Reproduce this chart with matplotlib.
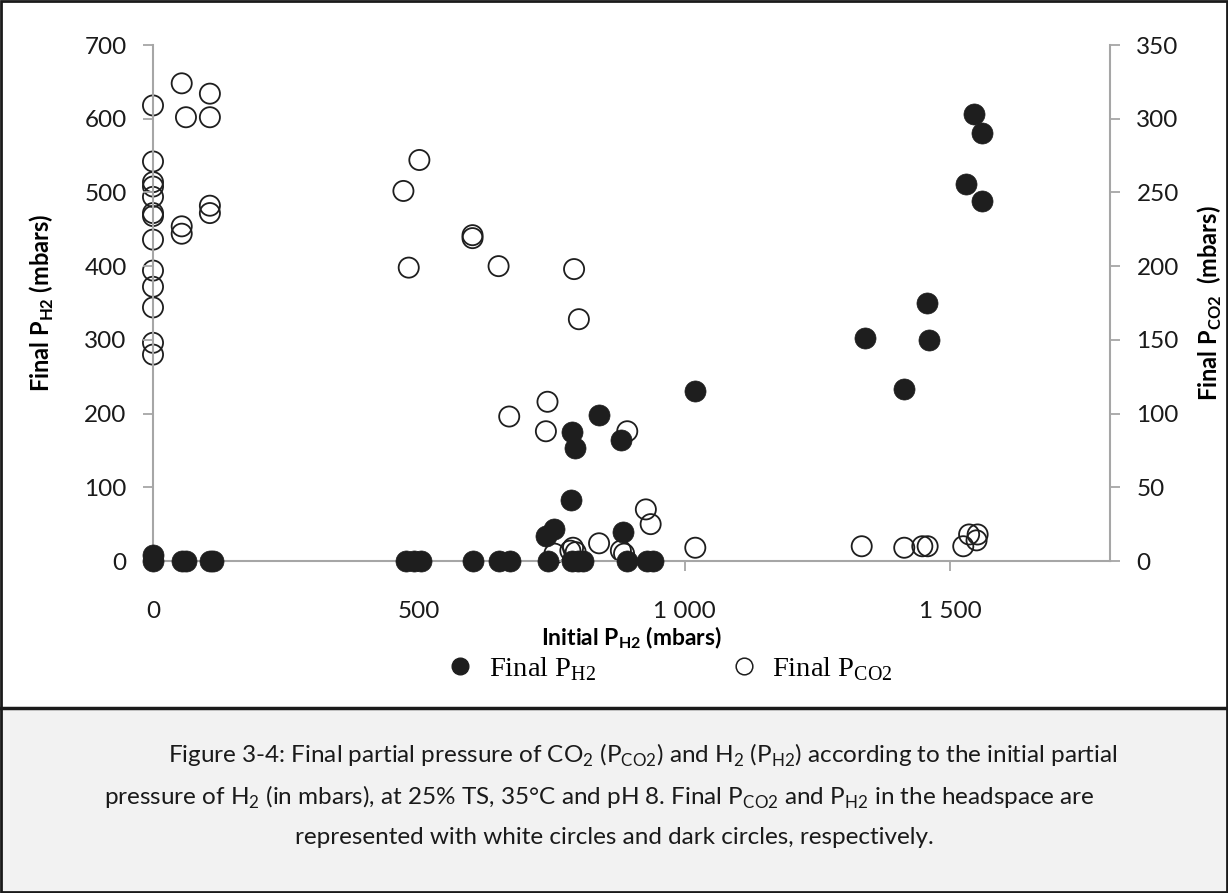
import matplotlib
matplotlib.use("Agg")
import matplotlib.pyplot as plt
from matplotlib.lines import Line2D
from matplotlib.patches import Rectangle

plt.rcParams['mathtext.fontset'] = 'custom'
plt.rcParams['mathtext.rm'] = 'Liberation Serif'
plt.rcParams['mathtext.bf'] = 'Lato:bold'
plt.rcParams['mathtext.sf'] = 'Lato'
plt.rcParams['font.family'] = ['Lato', 'DejaVu Sans']

# ---------------- data ----------------
h2_initial = [0, 0, 55, 63, 107, 113,
              475, 490, 505,
              601, 651, 671, 743, 789, 800, 808, 892, 930, 940,
              739, 755, 786, 789, 794, 839, 880, 884,
              1020,
              1340, 1413, 1455, 1460, 1530, 1545, 1560, 1560]
h2_final = [0, 8, 0, 0, 0, 0,
            0, 0, 0,
            0, 0, 0, 0, 0, 0, 0, 0, 0, 0,
            34, 44, 83, 175, 153, 198, 164, 40,
            230,
            302, 234, 350, 300, 512, 606, 580, 488]

co2_initial = [0, 0, 0, 0, 0, 0, 0, 0, 0, 0, 0, 0, 0,
               54, 107, 62, 107, 54, 54, 107, 107,
               471, 501, 481, 601, 601, 650, 670, 742, 739,
               792, 801, 892, 927, 936, 839, 755, 785, 790, 795, 880, 886,
               1020,
               1333, 1413, 1447, 1457, 1524, 1535, 1551, 1549]
co2_final = [309, 271, 257, 254, 247, 236, 234, 218, 197, 186, 172, 148, 140,
             324, 317, 301, 301, 227, 222, 241, 236,
             251, 272, 199, 221, 219, 200, 98, 108, 88,
             198, 164, 88, 35, 25, 12, 5, 7, 9, 6, 7, 5,
             9,
             10, 9, 10, 10, 10, 18, 18, 14]

x_ticks = [0, 500, 1000, 1500]
x_ticklabels = ['0', '500', '1 000', '1 500']
y_left_ticks = [0, 100, 200, 300, 400, 500, 600, 700]
y_right_ticks = [0, 50, 100, 150, 200, 250, 300, 350]

# ---------------- figure ----------------
W, H = 1228, 893
fig = plt.figure(figsize=(W / 100, H / 100), dpi=100)

# caption background + borders
fig.patches.append(Rectangle((0, 0), 1, (H - 708) / H, transform=fig.transFigure,
                             facecolor='#f2f2f2', edgecolor='none', zorder=0))
fig.add_artist(Line2D([0, 1], [(H - 708) / H] * 2, transform=fig.transFigure,
                      color='#1a1a1a', lw=2.5))
fig.patches.append(Rectangle((0.001, 0.001), 0.998, 0.998, transform=fig.transFigure,
                             facecolor='none', edgecolor='#1a1a1a', lw=2, zorder=5))

left, right, top, bottom = 153, 1110, 45, 561
ax = fig.add_axes([left / W, (H - bottom) / H, (right - left) / W, (bottom - top) / H])
ax2 = ax.twinx()
ax.set_zorder(2)
ax.patch.set_visible(False)

gray = '#a6a6a6'
dark = '#1e1e1e'

ax2.scatter(co2_initial, co2_final, s=210, facecolors='none', edgecolors=dark,
            linewidths=1.3, clip_on=False, zorder=3)
ax.scatter(h2_initial, h2_final, s=230, facecolors=dark, edgecolors=dark,
           linewidths=0.5, clip_on=False, zorder=4)

ax.set_xlim(0, 1800)
ax.set_ylim(0, 700)
ax2.set_ylim(0, 350)
ax.set_xticks(x_ticks)
ax.set_xticklabels(x_ticklabels)
ax.set_yticks(y_left_ticks)
ax2.set_yticks(y_right_ticks)

for a in (ax, ax2):
    a.spines['top'].set_visible(False)
    for s in ('left', 'right', 'bottom'):
        a.spines[s].set_color(gray)
        a.spines[s].set_linewidth(1.5)
    a.tick_params(axis='both', colors=gray, labelcolor='#1a1a1a', length=7,
                  width=1.3, labelsize=17.5, direction='out')
ax.spines['right'].set_visible(False)
ax2.spines['left'].set_visible(False)
ax2.spines['bottom'].set_visible(False)
ax.tick_params(axis='x', pad=22)
ax.tick_params(axis='y', pad=12)
ax2.tick_params(axis='y', pad=12)

ax.set_ylabel(r'Final P$_{\mathbf{H2}}$ (mbars)', fontsize=17, fontweight='bold', labelpad=20)
ax2.set_ylabel(r'Final P$_{\mathbf{CO2}}$  (mbars)', fontsize=17, fontweight='bold', labelpad=12)
xl = ax.set_xlabel(r'Initial P$_{\mathbf{H2}}$ (mbars)', fontsize=16.5, fontweight='bold')
xl.set_va('center')
ax.xaxis.set_label_coords(0.5, (561 - 638) / 516)

# legend
handles = [Line2D([], [], ls='none', marker='o', markersize=12, markerfacecolor=dark,
                  markeredgecolor=dark),
           Line2D([], [], ls='none', marker='o', markersize=12, markerfacecolor='none',
                  markeredgecolor=dark, markeredgewidth=1.1)]
labels = [r'Final P$_{\mathrm{H2}}$', r'Final P$_{\mathrm{CO2}}$']
fig.legend(handles, labels, loc='center', bbox_to_anchor=(668 / W, (H - 669) / H),
           ncol=2, frameon=False, columnspacing=4.6, handletextpad=0.4,
           handlelength=1.2, borderpad=0.2,
           prop={'family': 'Liberation Serif', 'size': 20.5})

# caption
cap_fs = 17.5
fig.text(643 / W, (H - 755) / H,
         r'Figure 3-4: Final partial pressure of CO$_{\mathsf{2}}$ (P$_{\mathsf{CO2}}$) and H$_{\mathsf{2}}$ (P$_{\mathsf{H2}}$) according to the initial partial',
         ha='center', va='center', fontsize=cap_fs, color='#1a1a1a')
fig.text(599 / W, (H - 797) / H,
         r'pressure of H$_{\mathsf{2}}$ (in mbars), at 25% TS, 35°C and pH 8. Final P$_{\mathsf{CO2}}$ and P$_{\mathsf{H2}}$ in the headspace are',
         ha='center', va='center', fontsize=cap_fs, color='#1a1a1a')
fig.text(614 / W, (H - 838) / H,
         'represented with white circles and dark circles, respectively.',
         ha='center', va='center', fontsize=cap_fs, color='#1a1a1a')

fig.savefig('out.png', dpi=100)
